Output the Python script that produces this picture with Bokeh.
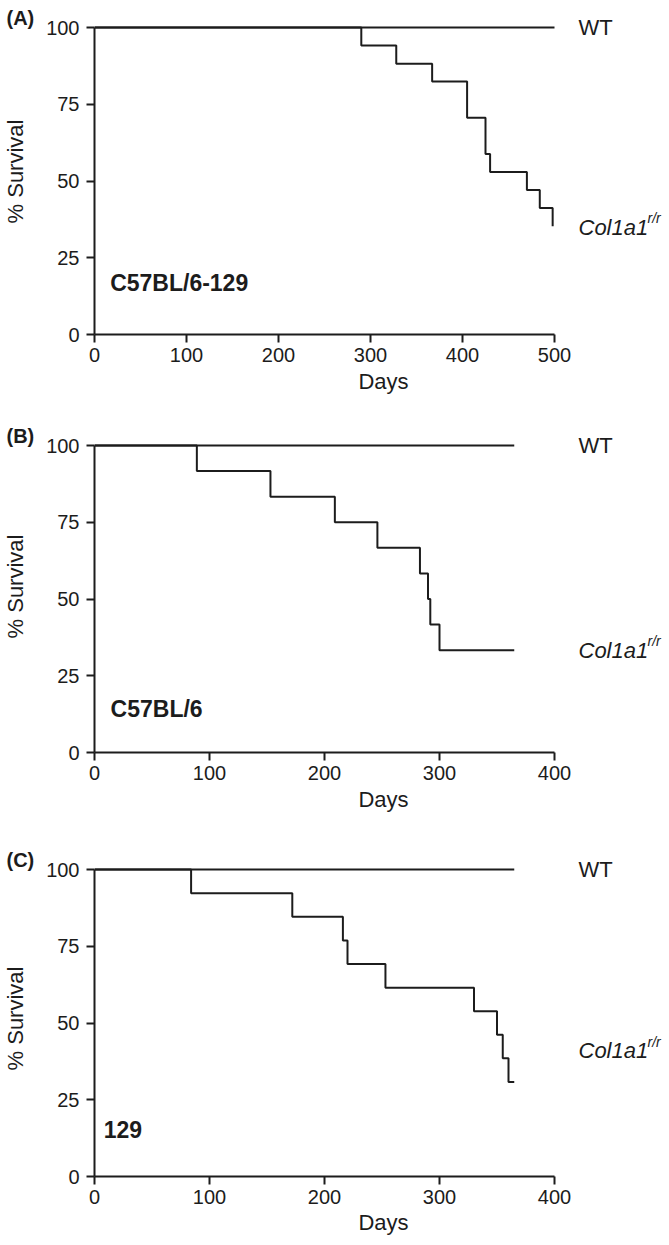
from bokeh.plotting import figure
from bokeh.layouts import column
from bokeh.models import Label, FixedTicker, Range1d
from bokeh.embed import file_html
from bokeh.resources import INLINE

# ---------------- data ----------------
panel_letters = ["(A)", "(B)", "(C)"]
strains = ["C57BL/6-129", "C57BL/6", "129"]

a_days = [0, 290, 328, 367, 405, 425, 430, 470, 484, 498]
a_surv = [100, 94.1, 88.2, 82.4, 70.6, 58.8, 52.9, 47.1, 41.2, 35.3]
a_wt_days = [0, 500]
a_wt_surv = [100, 100]

b_days = [0, 89, 153, 209, 246, 283, 290, 292, 300, 365]
b_surv = [100, 91.7, 83.3, 75.0, 66.7, 58.3, 50.0, 41.7, 33.3, 33.3]
b_wt_days = [0, 365]
b_wt_surv = [100, 100]

c_days = [0, 84, 172, 216, 220, 253, 330, 350, 355, 360, 365]
c_surv = [100, 92.3, 84.6, 76.9, 69.2, 61.5, 53.8, 46.2, 38.5, 30.8, 30.8]
c_wt_days = [0, 365]
c_wt_surv = [100, 100]

a_xticks = [0, 100, 200, 300, 400, 500]
bc_xticks = [0, 100, 200, 300, 400]
yticks = [0, 25, 50, 75, 100]

FONT = "Liberation Sans"
INK = "#1c1c1c"
PX_PER_UNIT = 3.07        # vertical pixels per % survival
AXIS_PX = 460             # pixels used by the x axis span
LEFT = 91                 # left border (axis area)
FRAME_W = 669 - LEFT      # frame extends to the right edge (room for labels)


def panel(letter, strain, days, surv, wt_days, wt_surv, xmax, xticks,
          strain_xy, col_y, frame_h, top, bottom, letter_side, s2):
    p = figure(frame_width=FRAME_W, frame_height=frame_h,
               min_border_left=LEFT, min_border_right=0,
               min_border_top=top, min_border_bottom=bottom,
               x_range=Range1d(0, xmax * FRAME_W / AXIS_PX),
               y_range=Range1d(0, frame_h / PX_PER_UNIT),
               output_backend="svg", toolbar_location=None)
    p.outline_line_color = None
    p.xgrid.visible = False
    p.ygrid.visible = False

    p.line(wt_days, wt_surv, line_color=INK, line_width=2)
    p.step(days, surv, mode="after", line_color=INK, line_width=2)

    for ax in (p.xaxis[0], p.yaxis[0]):
        ax.axis_line_color = INK
        ax.axis_line_width = 2
        ax.major_tick_line_color = INK
        ax.major_tick_line_width = 2
        ax.major_tick_in = 0
        ax.major_tick_out = 8
        ax.minor_tick_line_color = None
        ax.major_label_text_font = FONT
        ax.major_label_text_font_size = "20px"
        ax.major_label_text_color = INK
        ax.axis_label_text_font = FONT
        ax.axis_label_text_font_size = "22px"
        ax.axis_label_text_font_style = "normal"
        ax.axis_label_text_color = INK

    p.xaxis.bounds = (0, xmax)
    p.yaxis.bounds = (0, 100)
    p.xaxis.ticker = FixedTicker(ticks=xticks)
    p.yaxis.ticker = FixedTicker(ticks=yticks)
    p.yaxis.axis_label = "% Survival"
    p.xaxis.axis_label = "Days"
    p.yaxis.major_label_standoff = 7
    p.yaxis.axis_label_standoff = 15
    p.xaxis.major_label_standoff = 5
    p.xaxis.axis_label_standoff = s2

    # panel letter: placed in a side panel so it is not clipped to the frame
    p.add_layout(Label(x=0, y=100, x_offset=-88, y_offset=10, text=letter,
                       text_align="left", text_baseline="middle",
                       text_font=FONT, text_font_size="20px",
                       text_font_style="bold", text_color=INK), letter_side)
    # strain label
    p.add_layout(Label(x=strain_xy[0], y=strain_xy[1], text=strain,
                       text_align="left", text_baseline="middle",
                       text_font=FONT, text_font_size="23px",
                       text_font_style="bold", text_color=INK))
    # curve labels
    p.add_layout(Label(x=xmax, y=100, x_offset=24, text="WT",
                       text_align="left", text_baseline="middle",
                       text_font=FONT, text_font_size="22px", text_color=INK))
    p.add_layout(Label(x=xmax, y=col_y, x_offset=24, text="Col1a1",
                       text_align="left", text_baseline="middle",
                       text_font=FONT, text_font_size="22px",
                       text_font_style="italic", text_color=INK))
    p.add_layout(Label(x=xmax, y=col_y, x_offset=93, y_offset=9, text="r/r",
                       text_align="left", text_baseline="middle",
                       text_font=FONT, text_font_size="14px",
                       text_font_style="italic", text_color=INK))
    return p


pa = panel(panel_letters[0], strains[0], a_days, a_surv, a_wt_days, a_wt_surv,
           500, a_xticks, (17, 16.8), 35.0, 326, 8, 86, "below", 4)
pb = panel(panel_letters[1], strains[1], b_days, b_surv, b_wt_days, b_wt_surv,
           400, bc_xticks, (14, 14.3), 33.3, 332, 0, 86, "below", 4)
pc = panel(panel_letters[2], strains[2], c_days, c_surv, c_wt_days, c_wt_surv,
           400, bc_xticks, (8, 15.4), 41.0, 316, 22, 62, "above", 3)

layout = column(pa, pb, pc, spacing=0)
open("out.html", "w").write(file_html(layout, INLINE))
